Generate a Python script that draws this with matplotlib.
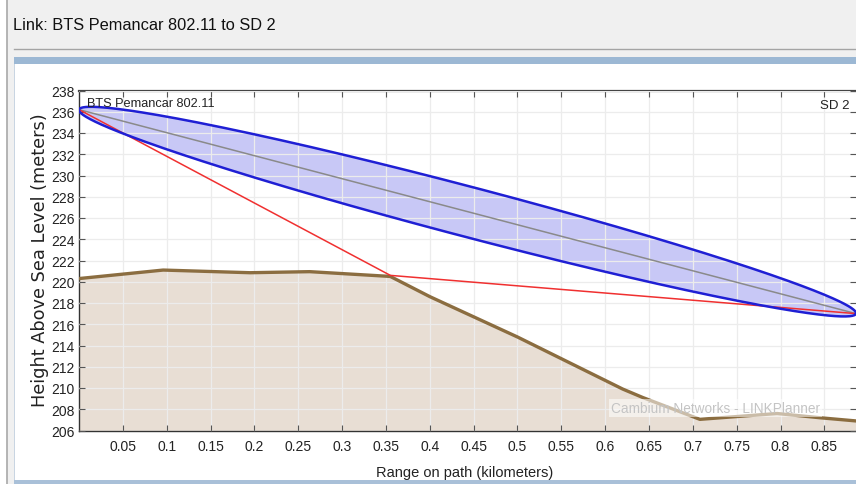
import numpy as np
import matplotlib
matplotlib.use("Agg")
import matplotlib.pyplot as plt
from matplotlib.patches import Rectangle
from matplotlib.lines import Line2D
from matplotlib.ticker import FormatStrFormatter

# terrain profile (km, m)
terrain_x = [0.0, 0.096, 0.195, 0.263, 0.355, 0.40, 0.50, 0.62, 0.643, 0.708, 0.796, 0.845, 0.886]
terrain_y = [220.3, 221.1, 220.85, 220.95, 220.5, 218.6, 214.8, 209.9, 209.1, 207.05, 207.6, 207.2, 206.9]

# line of sight between the two ends
los_x = [0.0, 0.886]
los_y = [236.2, 217.0]
fresnel_r = 2.35  # metres, first fresnel zone at mid path

# red obstruction path
red_x = [0.0, 0.355, 0.886]
red_y = [236.2, 220.6, 217.0]

xticks = [0.05, 0.1, 0.15, 0.2, 0.25, 0.3, 0.35, 0.4, 0.45, 0.5, 0.55, 0.6, 0.65, 0.7, 0.75, 0.8, 0.85]
yticks = list(range(206, 239, 2))

W, H = 856, 485
fig = plt.figure(figsize=(W / 100, H / 100), dpi=100, facecolor="white")
sans = ["Liberation Sans", "DejaVu Sans"]

def fx(x):
    return x / W

def fy(y):
    return 1 - y / H

def rect(x0, y0, x1, y1, color, z=0):
    fig.patches.append(Rectangle((fx(x0), fy(y1)), fx(x1 - x0), (y1 - y0) / H,
                                 transform=fig.transFigure, facecolor=color,
                                 edgecolor="none", zorder=z))

# screenshot chrome
rect(7, 0, W, 58, "#f0f0f0")
rect(7, 58, 14, H, "#f0f0f0")
rect(14, 58, W, 65, "#9cb8d4")
rect(14, 65, 15.5, 481, "#c9d5e2")
rect(14, 481, W, H, "#a9c0d8", z=10)
fig.lines.append(Line2D([fx(7), fx(7)], [0, 1], transform=fig.transFigure, color="#a8a8a8", lw=1.2))
fig.lines.append(Line2D([fx(14), 1], [fy(50), fy(50)], transform=fig.transFigure, color="#a4a4a4", lw=1.0))

fig.text(fx(13), fy(25), "Link: BTS Pemancar 802.11 to SD 2", fontsize=11.8,
         family=sans, color="#111111", ha="left", va="center")

# axes placement (pixels)
ax_l, ax_r, ax_t, ax_b = 79, 856, 91.5, 431.5
ax = fig.add_axes([fx(ax_l), fy(ax_b), (ax_r - ax_l) / W, (ax_b - ax_t) / H])
xmin, xmax = 0.0, 0.886
ymin, ymax = 206, 238
ax.set_xlim(xmin, xmax)
ax.set_ylim(ymin, ymax)

# terrain
ax.fill_between(terrain_x, ymin, terrain_y, color="#e8ded4", lw=0, zorder=1)
ax.plot(terrain_x, terrain_y, color="#8b6d40", lw=2.4, zorder=4, solid_joinstyle="round")

# fresnel ellipse, drawn round in screen space
k = ((ax_b - ax_t) / (ymax - ymin)) / ((ax_r - ax_l) / (xmax - xmin))
u0, v0 = los_x[0], los_y[0] * k
u1, v1 = los_x[1], los_y[1] * k
cu, cv = (u0 + u1) / 2, (v0 + v1) / 2
a = np.hypot(u1 - u0, v1 - v0) / 2
b = fresnel_r * k
th = np.arctan2(v1 - v0, u1 - u0)
t = np.linspace(0, 2 * np.pi, 500)
eu = cu + a * np.cos(t) * np.cos(th) - b * np.sin(t) * np.sin(th)
ev = cv + a * np.cos(t) * np.sin(th) + b * np.sin(t) * np.cos(th)
ax.fill(eu, ev / k, facecolor="#c8c8f6", edgecolor="none", zorder=1.5)
ax.plot(eu, ev / k, color="#1f1fd4", lw=1.8, zorder=5)
ax.plot(los_x, los_y, color="#8a8a8a", lw=1.1, zorder=4.5)
ax.plot(red_x, red_y, color="#f03030", lw=1.1, zorder=4.6)

# grid over the fills
ax.set_axisbelow(False)
ax.grid(True, color="#ececec", lw=0.9)
for gl in ax.get_xgridlines() + ax.get_ygridlines():
    gl.set_zorder(2)

ax.set_xticks(xticks)
ax.set_yticks(yticks)
ax.xaxis.set_major_formatter(FormatStrFormatter("%g"))
ax.tick_params(direction="in", length=4, width=0.8, color="#555555",
               top=True, right=True, labelsize=10, labelcolor="#222222")
ax.tick_params(axis="x", pad=6)
ax.tick_params(axis="y", pad=3)
for lab in ax.get_xticklabels() + ax.get_yticklabels():
    lab.set_family(sans)

for s in ["left", "bottom"]:
    ax.spines[s].set_color("#333333")
    ax.spines[s].set_linewidth(1.0)
ax.spines["top"].set_color("#444444")
ax.spines["top"].set_linewidth(1.6)
ax.spines["right"].set_visible(False)

ax.text(0.010, 0.980, "BTS Pemancar 802.11", transform=ax.transAxes, fontsize=9.2,
        family=sans, ha="left", va="top", color="#222222", zorder=6)
ax.text(0.9915, 0.975, "SD 2", transform=ax.transAxes, fontsize=9.5,
        family=sans, ha="right", va="top", color="#222222", zorder=6)

ax.text(0.819, 0.066, "Cambium Networks - LINKPlanner", transform=ax.transAxes,
        fontsize=9.8, family=sans, color="#c4c4c4", ha="center", va="center",
        zorder=7, bbox=dict(boxstyle="square,pad=0.15", facecolor="white", edgecolor="none", alpha=0.55))

fig.text(fx(40), fy(260), "Height Above Sea Level (meters)", rotation=90, fontsize=12.8,
         ha="center", va="center", color="#222222")
fig.text(fx(465), fy(473), "Range on path (kilometers)", fontsize=10.5,
         family=sans, ha="center", va="center", color="#222222")

fig.savefig("out.png", dpi=100, facecolor="white")
